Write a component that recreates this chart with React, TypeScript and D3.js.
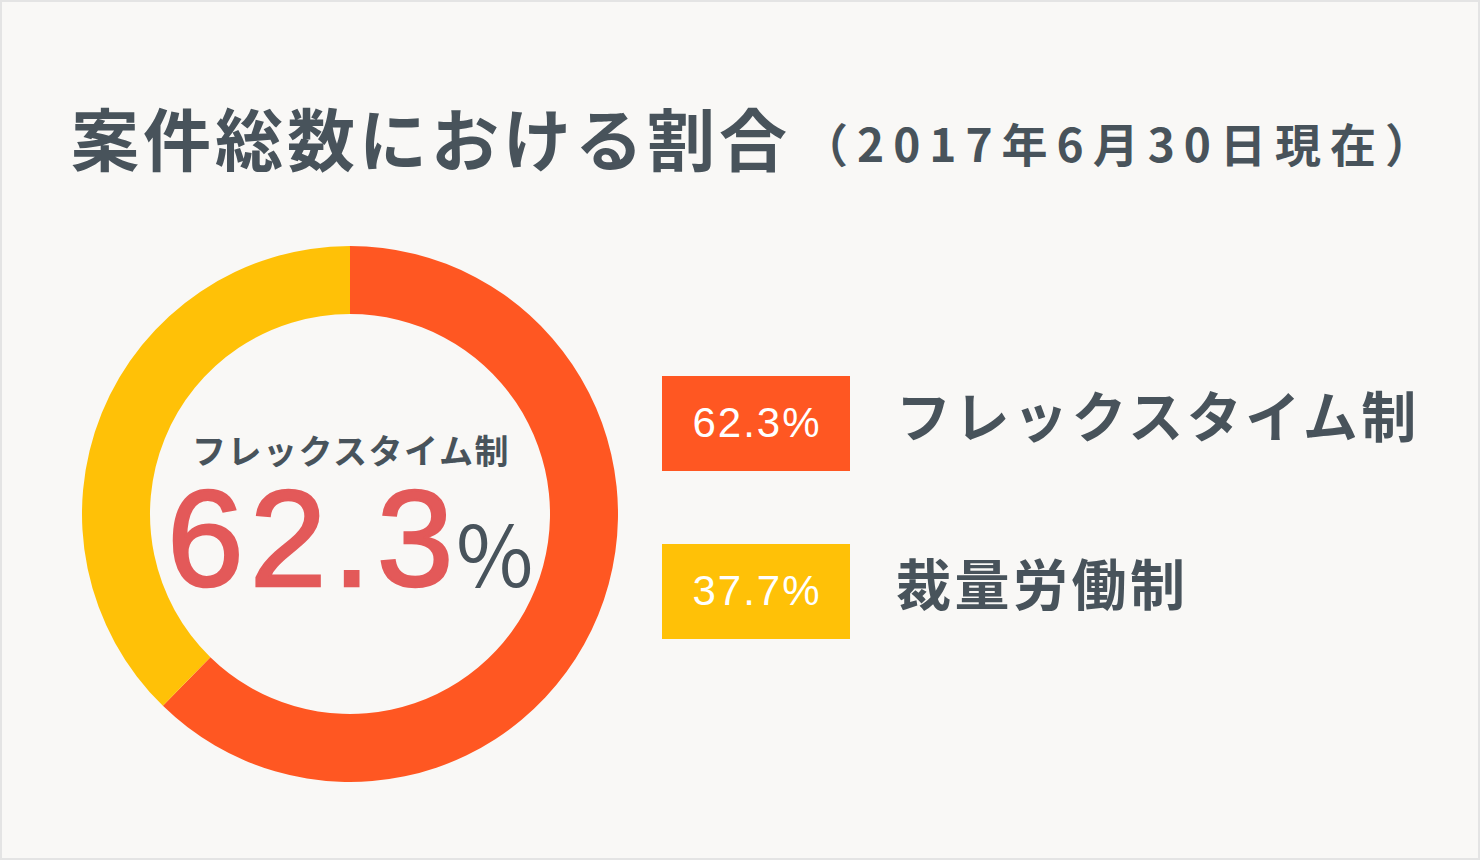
import React from "react";
import * as d3 from "d3";

const categories = ["フレックスタイム制", "裁量労働制"];
const values = [62.3, 37.7];
const valueLabels = ["62.3%", "37.7%"];
const colors = ["#FF5722", "#FFC107"];
const titleMain = "案件総数における割合";
const titleSub = "（2017年6月30日現在）";
const centerNumber = "62.3";
const centerUnit = "%";

const W = 1480;
const H = 860;
const TEXT = "#48535b";
const CJK = "'Noto Sans CJK JP', 'Noto Sans', sans-serif";
const LATIN = "'Liberation Sans', Arial, sans-serif";

export default function App() {
  const cx = 350;
  const cy = 514;
  const pie = d3.pie<number>().sort(null).value((d) => d)(values);
  const arc = d3.arc<d3.PieArcDatum<number>>().innerRadius(200).outerRadius(268);

  const boxX = 662;
  const boxW = 188;
  const boxH = 95;
  const rowY = d3.scalePoint<string>().domain(categories).range([376, 544]);

  return (
    <svg
      width={W}
      height={H}
      style={{ position: "absolute", left: 0, top: 0, display: "block" }}
    >
      <rect x={0} y={0} width={W} height={H} fill="#e4e4e4" />
      <rect x={2} y={2} width={W - 4} height={H - 4} fill="#f9f8f6" />

      <text
        x={71}
        y={166}
        fontFamily={CJK}
        fontWeight={700}
        fontSize={68}
        letterSpacing={4}
        fill={TEXT}
      >
        {titleMain}
      </text>
      <text
        x={802}
        y={162}
        fontFamily={CJK}
        fontWeight={700}
        fontSize={46}
        letterSpacing={9}
        fill={TEXT}
      >
        {titleSub}
      </text>

      <g transform={`translate(${cx},${cy})`}>
        {pie.map((p, i) => (
          <path key={i} d={arc(p) || ""} fill={colors[i]} />
        ))}
      </g>

      <text
        x={cx + 1}
        y={464}
        textAnchor="middle"
        fontFamily={CJK}
        fontWeight={700}
        fontSize={34}
        letterSpacing={1.5}
        fill={TEXT}
      >
        {categories[0]}
      </text>
      <text
        x={167}
        y={586}
        fontFamily={LATIN}
        fontSize={138}
        letterSpacing={6}
        fill="#e35959"
        stroke="#e35959"
        strokeWidth={2.5}
      >
        {centerNumber}
      </text>
      <text
        x={456}
        y={587}
        fontFamily={CJK}
        fontWeight={400}
        fontSize={84}
        fill={TEXT}
      >
        {centerUnit}
      </text>

      {categories.map((c, i) => {
        const y = rowY(c) as number;
        return (
          <g key={c}>
            <rect x={boxX} y={y} width={boxW} height={boxH} fill={colors[i]} />
            <text
              x={boxX + boxW / 2 + 1}
              y={y + 61}
              textAnchor="middle"
              fontFamily={LATIN}
              fontSize={42}
              letterSpacing={2}
              fill="#ffffff"
            >
              {valueLabels[i]}
            </text>
            <text
              x={896}
              y={y + 61}
              fontFamily={CJK}
              fontWeight={700}
              fontSize={55}
              letterSpacing={3.5}
              fill={TEXT}
            >
              {c}
            </text>
          </g>
        );
      })}
    </svg>
  );
}
